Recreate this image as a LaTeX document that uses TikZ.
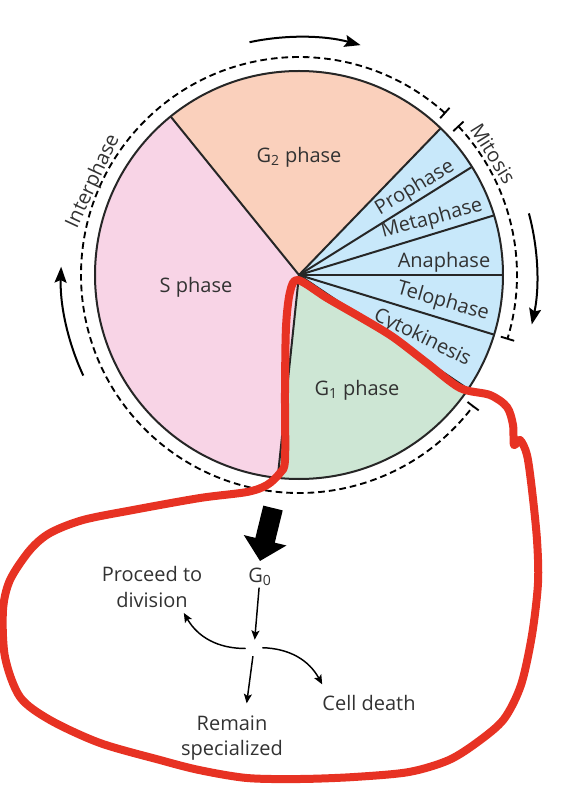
\documentclass[tikz,border=0pt]{standalone}
\usepackage{fontspec}
\setmainfont{Open Sans}
\usetikzlibrary{positioning, arrows.meta}
\definecolor{SPink}{RGB}{248, 212, 230}
\definecolor{GTwoPeach}{RGB}{250, 208, 188}
\definecolor{GOneGreen}{RGB}{205, 230, 212}
\definecolor{MitosisBlue}{RGB}{200, 232, 250}
\definecolor{InkGray}{RGB}{50, 50, 50}
\definecolor{MarkerRed}{RGB}{231, 50, 35}

\begin{document}
\begin{tikzpicture}[x=0.75pt, y=0.75pt,
      phase/.style={text=InkGray, font=\fontsize{15}{17}\selectfont, inner sep=1pt},
      outcome/.style={text=InkGray, font=\fontsize{15}{19}\selectfont, align=center, inner sep=1pt},
      divider/.style={draw=black!85, line width=1.5pt},
      track/.style={dash pattern=on 5pt off 3pt, line width=1.4pt},
      turn/.style={line width=1.5pt, -{Stealth[length=12pt, width=9pt, inset=2pt]}},
      branch/.style={line width=1.1pt, -{Stealth[length=7pt, width=6pt, inset=1.5pt]}}
    ]
      \useasboundingbox (-299,-521) rectangle (267,275);
      \coordinate (core) at (0,0);

      % the cycle
      \fill[GTwoPeach] (core) -- (46:204) arc[start angle=46, end angle=129, radius=204] -- cycle;
      \fill[SPink] (core) -- (129:204) arc[start angle=129, end angle=264, radius=204] -- cycle;
      \fill[GOneGreen] (core) -- (264:204) arc[start angle=264, end angle=326, radius=204] -- cycle;
      \fill[MitosisBlue] (core) -- (-34:204) arc[start angle=-34, end angle=46, radius=204] -- cycle;
      \foreach \a in {129, 46, 32, 17, 0, -17, -34, 264}
        \draw[divider] (core) -- (\a:204);
      \draw[divider] (core) circle[radius=204];

      \draw[track] (48:218) arc[start angle=48, end angle=323, radius=218];
      \draw[track] (43:218) arc[start angle=43, end angle=-17, radius=218];
      \foreach \a in {48, 43, -17, -37}
        \draw[line width=1.4pt] (\a:211) -- (\a:225);

      \draw[turn] (102:238) arc[start angle=102, end angle=75, radius=238];
      \draw[turn] (15:238) arc[start angle=15, end angle=-12, radius=238];
      \draw[turn] (205:238) arc[start angle=205, end angle=178, radius=238];

      \node[phase, rotate=65] (inter) at (155.5:226) {Interphase};
      \node[phase, rotate=-58] (mito) at (32:229) {Mitosis};
      \node[phase] (gtwo) at (0,118) {G\textsubscript{2} phase};
      \node[phase] (sph) at (-103,-12) {S phase};
      \node[phase] (gone) at (58,-115) {G\textsubscript{1} phase};
      \node[phase, rotate=31] (pro) at (116,87) {Prophase};
      \node[phase, rotate=15] (meta) at (133,56) {Metaphase};
      \node[phase] (ana) at (145,13) {Anaphase};
      \node[phase, rotate=-16] (telo) at (144,-27) {Telophase};
      \node[phase, rotate=-26] (cyto) at (123,-63) {Cytokinesis};

      % leaving the cycle
      \node[phase] (gzero) at (-39,-302) {G\textsubscript{0}};
      \coordinate (exit) at (-26,-233);
      \draw[line width=15pt, -{Triangle[length=16pt, width=32pt]}] (exit) -- ([yshift=4pt]gzero.north);
      \node[circle, minimum size=12pt, inner sep=0pt] (hub) at (-45,-373) {};
      \node[outcome] (proceed) at (-147,-312) {Proceed to\\division};
      \node[outcome] (remain) at (-67,-463) {Remain\\specialized};
      \node[outcome] (death) at (70,-428) {Cell death};

      \draw[branch] (gzero) -- (hub);
      \draw[branch] (hub) to[bend left=30] ([xshift=-15pt, yshift=-3pt]proceed.south east);
      \draw[branch] (hub) -- ([xshift=11pt, yshift=8pt]remain.north);
      \draw[branch] (hub) to[bend left=30] ([xshift=1pt, yshift=7pt]death.north west);

      % hand-drawn marking
      \draw[MarkerRed, line width=6pt, line join=round] plot[smooth cycle, tension=0.5] coordinates {
        (-1,-5) (28,-23) (61,-42) (94,-62) (128,-88) (161,-113) (191,-120) (208,-132)
        (214,-150) (215,-170) (221,-165) (228,-180) (233,-215) (238,-265) (239,-308)
        (233,-360) (222,-410) (205,-444) (180,-466) (150,-485) (110,-497) (55,-502)
        (1,-504) (-52,-503) (-100,-495) (-139,-485)
        (-199,-468) (-249,-445) (-279,-422) (-294,-382) (-296,-335) (-289,-305)
        (-269,-275) (-249,-258) (-216,-245) (-166,-235) (-99,-223) (-52,-217)
        (-32,-210) (-19,-198) (-14,-185) (-14,-118) (-13,-52) (-9,-17)};
    \end{tikzpicture}
\end{document}
